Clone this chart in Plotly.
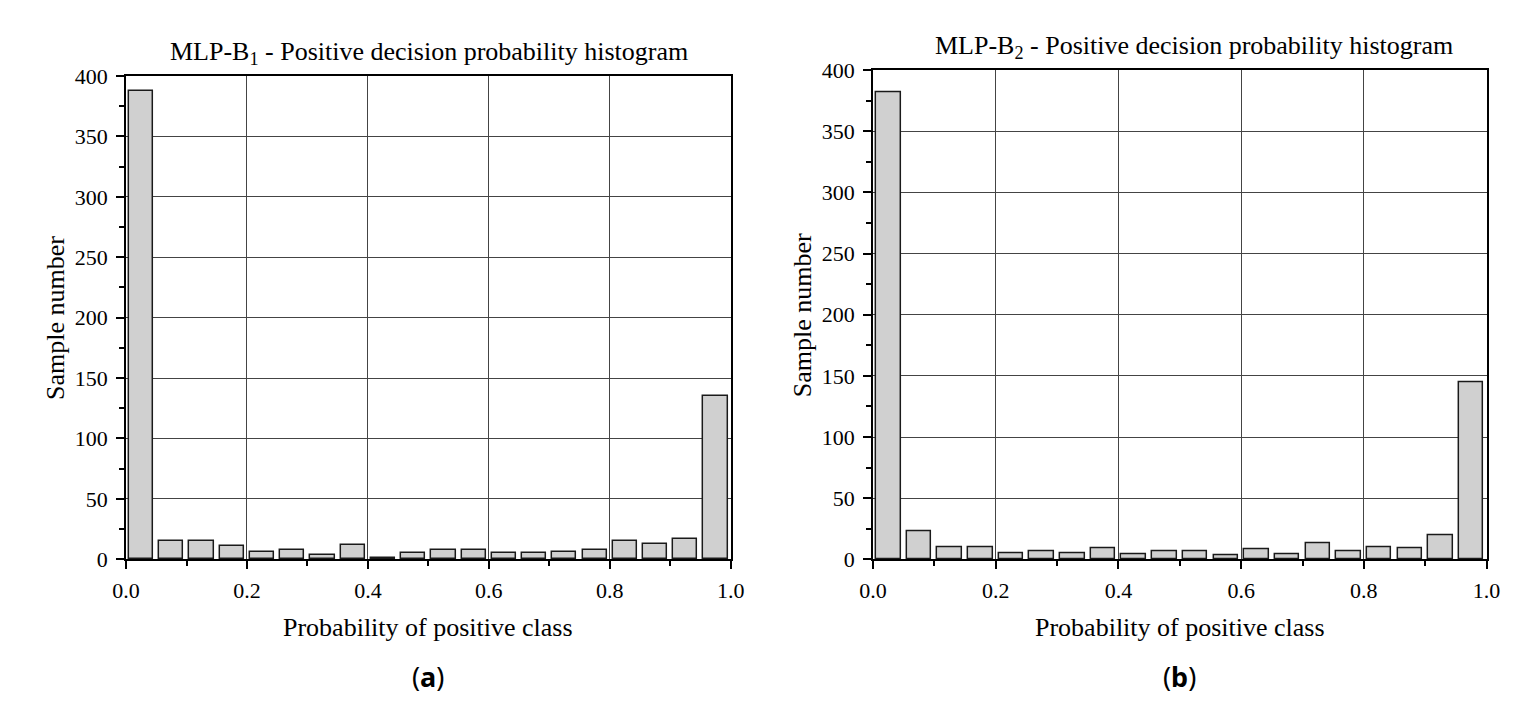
import plotly.graph_objects as go

W, H = 1523, 710

# bin centres of the 20 histogram bins (width 0.05)
bin_centers = [0.025 + 0.05 * i for i in range(20)]

counts_b1 = [388, 15, 15, 11, 6, 8, 4, 12, 1, 5, 8, 8, 5, 5, 6, 8, 15, 13, 17, 135]
counts_b2 = [382, 23, 10, 10, 5, 7, 5, 9, 4, 7, 7, 3, 8, 4, 13, 7, 10, 9, 20, 145]

titles = ["MLP-B<sub>1</sub> - Positive decision probability histogram",
          "MLP-B<sub>2</sub> - Positive decision probability histogram"]
panel_labels = ["(<b>a</b>)", "(<b>b</b>)"]
x_ticks = [0.0, 0.2, 0.4, 0.6, 0.8, 1.0]
y_ticks = [0, 50, 100, 150, 200, 250, 300, 350, 400]

SERIF = "Liberation Serif, Times New Roman, serif"


def px_x(p):
    return p / W


def px_y(p):
    return 1 - p / H


# plot boxes in pixels: (left, right, top, bottom)
boxes = [(106, 722, 58, 559), (867, 1492, 52, 559)]

fig = go.Figure()

for i, counts in enumerate([counts_b1, counts_b2]):
    xa = "x" if i == 0 else "x2"
    ya = "y" if i == 0 else "y2"
    fig.add_trace(go.Bar(
        x=bin_centers, y=counts, width=0.04,
        xaxis=xa, yaxis=ya,
        marker=dict(color="#d0d0d0", line=dict(color="#1a1a1a", width=1.5)),
        showlegend=False,
    ))

axis_common = dict(
    showline=True, linecolor="black", linewidth=2, mirror=True,
    showgrid=True, gridcolor="#444444", gridwidth=1,
    ticks="outside", ticklen=8, tickwidth=1.5, tickcolor="black",
    tickfont=dict(family=SERIF, size=22, color="black"),
    zeroline=False,
)

for i, (l, r, t, b) in enumerate(boxes):
    sfx = "" if i == 0 else "2"
    fig.update_layout(**{
        "xaxis" + sfx: dict(
            axis_common, domain=[px_x(l), px_x(r)], range=[0, 1],
            tickvals=x_ticks, ticktext=["%.1f" % v for v in x_ticks],
            minor=dict(ticks="outside", dtick=0.1, ticklen=5, tickcolor="black",
                       showgrid=False),
            anchor="y" + sfx, ticklabelstandoff=2,
        ),
        "yaxis" + sfx: dict(
            axis_common, domain=[px_y(b), px_y(t)], range=[0, 400],
            tickvals=y_ticks,
            minor=dict(ticks="outside", dtick=25, ticklen=5, tickcolor="black",
                       showgrid=False),
            anchor="x" + sfx, ticklabelstandoff=4,
        ),
    })

annotations = []
title_x = [415, 1194]
for i, (l, r, t, b) in enumerate(boxes):
    cx = (l + r) / 2
    annotations.append(dict(
        text=titles[i], x=px_x(title_x[i]), y=px_y(t - 24), xref="paper", yref="paper",
        showarrow=False, xanchor="center", yanchor="middle",
        font=dict(family=SERIF, size=26, color="black")))
    annotations.append(dict(
        text="Probability of positive class", x=px_x(cx), y=px_y(630),
        xref="paper", yref="paper", showarrow=False,
        xanchor="center", yanchor="middle",
        font=dict(family=SERIF, size=26, color="black")))
    annotations.append(dict(
        text="Sample number", x=px_x(l - 72), y=px_y((t + b) / 2),
        xref="paper", yref="paper", showarrow=False, textangle=-90,
        xanchor="center", yanchor="middle",
        font=dict(family=SERIF, size=26, color="black")))
    annotations.append(dict(
        text=panel_labels[i], x=px_x(cx), y=px_y(680),
        xref="paper", yref="paper", showarrow=False,
        xanchor="center", yanchor="middle",
        font=dict(family="Noto Sans", size=27, color="black")))

fig.update_layout(
    width=W, height=H,
    margin=dict(l=0, r=0, t=0, b=0),
    paper_bgcolor="white", plot_bgcolor="white",
    bargap=0,
    annotations=annotations,
)

fig.write_html("out.html")
